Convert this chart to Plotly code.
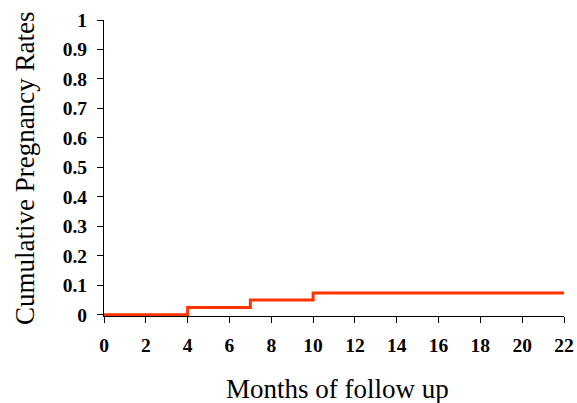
import plotly.graph_objects as go

months = [0, 4, 7, 10, 22]
cum_rate = [0.0, 0.025, 0.05, 0.074, 0.074]
x_ticks = list(range(0, 23, 2))
y_ticks = [0, 0.1, 0.2, 0.3, 0.4, 0.5, 0.6, 0.7, 0.8, 0.9, 1]
y_tick_labels = ["0", "0.1", "0.2", "0.3", "0.4", "0.5", "0.6", "0.7", "0.8", "0.9", "1"]
x_title = "Months of follow up"
y_title = "Cumulative Pregnancy Rates"

W, H = 577, 403
L, R, T, B = 104, 13, 20, 87
pw, ph = W - L - R, H - T - B

fig = go.Figure()
fig.add_trace(go.Scatter(
    x=months, y=cum_rate, mode="lines", line=dict(shape="hv", color="#FF3300", width=3),
    showlegend=False, hoverinfo="skip",
))

serif = "Liberation Serif, Times New Roman, serif"
fig.update_layout(
    width=W, height=H,
    margin=dict(l=L, r=R, t=T, b=B, autoexpand=False),
    paper_bgcolor="white", plot_bgcolor="white",
    font=dict(family=serif, color="black"),
    xaxis=dict(
        range=[0, 22], tickvals=x_ticks, ticktext=[str(v) for v in x_ticks],
        showgrid=False, zeroline=False, showline=True, linecolor="black", linewidth=1,
        ticks="outside", ticklen=6, tickcolor="black", tickwidth=1,
        tickfont=dict(family=serif, size=19.5, weight="bold", color="black"),
        ticklabelstandoff=6, automargin=False,
        layer="below traces",
    ),
    yaxis=dict(
        range=[-0.004, 1.0], tickvals=y_ticks, ticktext=y_tick_labels,
        showgrid=False, zeroline=False, showline=True, linecolor="black", linewidth=1,
        ticks="outside", ticklen=6, tickcolor="black", tickwidth=1,
        tickfont=dict(family=serif, size=19.5, weight="bold", color="black"),
        ticklabelstandoff=6, automargin=False,
        layer="below traces",
    ),
    annotations=[
        dict(text=x_title, xref="paper", yref="paper", x=(337 - L) / pw, y=(T + ph - 389) / ph,
             xanchor="center", yanchor="middle", showarrow=False,
             font=dict(family=serif, size=27, color="black")),
        dict(text=y_title, xref="paper", yref="paper", x=(25 - L) / pw, y=(T + ph - 169) / ph,
             xanchor="center", yanchor="middle", showarrow=False, textangle=-90,
             font=dict(family=serif, size=27, color="black")),
    ],
)

fig.write_html(
    "out.html",
    config={"displayModeBar": False, "staticPlot": True},
    post_script="document.body.style.margin='0';document.body.style.overflow='hidden';",
)
